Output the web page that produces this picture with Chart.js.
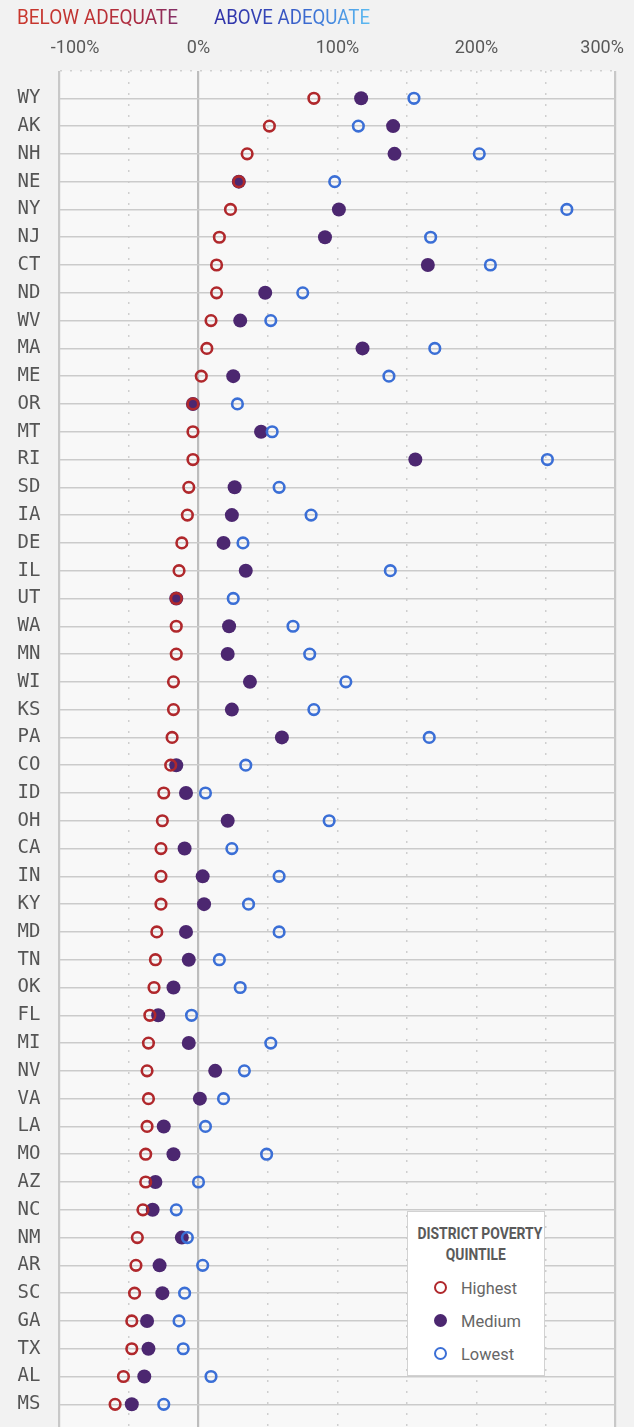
<!DOCTYPE html>
<html>
<head>
<meta charset="utf-8">
<title>District poverty quintile spending vs. adequate</title>
<script src="https://cdn.jsdelivr.net/npm/chart.js@4/dist/chart.umd.min.js"></script>
<style>
    html, body {
        margin: 0;
        padding: 0;
        background: #f2f2f2;
        overflow: hidden;
        width: 634px;
        height: 1427px;
    }
    #wrap {
        position: absolute;
        left: 0;
        top: 0;
        width: 634px;
        height: 1440px;
    }
    .head {
        position: absolute;
        top: 7px;
        font: 21px/21px Roboto, sans-serif;
        white-space: nowrap;
        transform-origin: left top;
        -webkit-background-clip: text;
        background-clip: text;
        color: transparent;
    }
    #below {
        left: 17px;
        background-image: linear-gradient(90deg, #c9372c 0%, #bf3131 45%, #a52a45 80%, #82306a 100%);
    }
    #above {
        left: 214px;
        background-image: linear-gradient(90deg, #2f2fa6 0%, #3446b8 35%, #3d74d6 65%, #5cbcf2 100%);
    }
    #legend {
        position: absolute;
        left: 407px;
        top: 1211px;
        width: 136px;
        height: 163px;
        background: #fff;
        border: 1.5px solid #d2d2d2;
        color: #5a5a5a;
    }
    #legend .ttl {
        position: absolute;
        left: 0;
        width: 136px;
        text-align: center;
        font: bold 16px/16px Roboto, sans-serif;
        white-space: nowrap;
    }
    #legend .ttl span {
        display: inline-block;
        transform-origin: center top;
    }
    #legend .item {
        position: absolute;
        left: 0;
        height: 20px;
        width: 136px;
    }
    #legend .dot {
        position: absolute;
        left: 25.5px;
        top: 3.5px;
        width: 13px;
        height: 13px;
        border-radius: 50%;
        box-sizing: border-box;
    }
    #legend .lab {
        position: absolute;
        left: 52.5px;
        top: 0;
        font: 17px/20px Roboto, sans-serif;
        color: #666;
        white-space: nowrap;
        transform-origin: left top;
    }
</style>
</head>
<body>
<div id="wrap">
    <canvas id="chart" width="634" height="1440"></canvas>
</div>
<div class="head" id="below">BELOW ADEQUATE</div>
<div class="head" id="above">ABOVE ADEQUATE</div>
<div id="legend"></div>

<script>
// ============================================================================
// Data (percent above / below adequate spending)
// ============================================================================

const states = [
    'WY', 'AK', 'NH', 'NE', 'NY', 'NJ', 'CT', 'ND', 'WV', 'MA',
    'ME', 'OR', 'MT', 'RI', 'SD', 'IA', 'DE', 'IL', 'UT', 'WA',
    'MN', 'WI', 'KS', 'PA', 'CO', 'ID', 'OH', 'CA', 'IN', 'KY',
    'MD', 'TN', 'OK', 'FL', 'MI', 'NV', 'VA', 'LA', 'MO', 'AZ',
    'NC', 'NM', 'AR', 'SC', 'GA', 'TX', 'AL', 'MS'
];

const highest = [
    83, 51, 35, 29, 23, 15, 13, 13, 9, 6,
    2, -4, -4, -4, -7, -8, -12, -14, -16, -16,
    -16, -18, -18, -19, -20, -25, -26, -27, -27, -27,
    -30, -31, -32, -35, -36, -37, -36, -37, -38, -38,
    -40, -44, -45, -46, -48, -48, -54, -60
];

const medium = [
    117, 140, 141, 29, 101, 91, 165, 48, 30, 118,
    25, -4, 45, 156, 26, 24, 18, 34, -16, 22,
    21, 37, 24, 60, -16, -9, 21, -10, 3, 4,
    -9, -7, -18, -29, -7, 12, 1, -25, -18, -31,
    -33, -12, -28, -26, -37, -36, -39, -48
];

const lowest = [
    155, 115, 202, 98, 265, 167, 210, 75, 52, 170,
    137, 28, 53, 251, 58, 81, 32, 138, 25, 68,
    80, 106, 83, 166, 34, 5, 94, 24, 58, 36,
    58, 15, 30, -5, 52, 33, 18, 5, 49, 0,
    -16, -8, 3, -10, -14, -11, 9, -25
];

const seriesNames = ['Highest', 'Medium', 'Lowest'];
const xTicks = [-100, 0, 100, 200, 300];

// ============================================================================
// Styling
// ============================================================================

const RED = '#b0282c';
const PURPLE = '#4c2770';
const BLUE = '#3b6fd6';
const GRID = '#cbcbcb';

// blank slot above the first state and below the last one
const yLabels = [''].concat(states, ['']);

function points(values) {
    return values.map((v, i) => ({ x: v, y: states[i] }));
}

const plotBackground = {
    id: 'plotBackground',
    beforeDraw(chart) {
        const { ctx, chartArea: a } = chart;
        ctx.save();
        ctx.fillStyle = '#f8f8f8';
        ctx.fillRect(a.left, a.top, a.right - a.left, a.bottom - a.top);
        ctx.restore();
    }
};

function tickText(v) {
    if (!xTicks.includes(v)) return '';
    const s = v + '%';
    // edge labels sit a little inside the plot, as in the original
    if (v === xTicks[0]) return '       ' + s;
    if (v === xTicks[xTicks.length - 1]) return s + '      ';
    return s;
}

// keep the plot area fixed: no extra room for overhanging labels
function noPadding(scale) {
    scale.paddingLeft = 0;
    scale.paddingRight = 0;
    scale.paddingTop = 0;
    scale.paddingBottom = 0;
}

// ============================================================================
// Chart
// ============================================================================

const chart = new Chart(document.getElementById('chart'), {
    type: 'scatter',
    data: {
        datasets: [
            {
                label: seriesNames[0],
                data: points(highest),
                order: 1,
                pointRadius: 5.3,
                pointBorderWidth: 2.6,
                borderColor: RED,
                backgroundColor: 'rgba(0,0,0,0)'
            },
            {
                label: seriesNames[1],
                data: points(medium),
                order: 2,
                pointRadius: 7,
                pointBorderWidth: 0,
                borderColor: PURPLE,
                backgroundColor: PURPLE
            },
            {
                label: seriesNames[2],
                data: points(lowest),
                order: 0,
                pointRadius: 5.3,
                pointBorderWidth: 2.6,
                borderColor: BLUE,
                backgroundColor: 'rgba(0,0,0,0)'
            }
        ]
    },
    options: {
        responsive: false,
        animation: false,
        events: [],
        layout: {
            padding: { left: 0, right: 18.5, top: 0, bottom: 7.3 }
        },
        plugins: {
            legend: { display: false },
            tooltip: { enabled: false }
        },
        scales: {
            x: {
                type: 'linear',
                position: 'top',
                min: -100,
                max: 300,
                afterFit(scale) {
                    scale.height = 70.5;
                    noPadding(scale);
                },
                ticks: {
                    stepSize: 50,
                    autoSkip: false,
                    maxRotation: 0,
                    padding: 11,
                    color: '#595959',
                    font: { family: 'Roboto', size: 18 },
                    callback: tickText
                },
                grid: {
                    drawTicks: false,
                    color: (c) => (c.tick && c.tick.value === 0) ? '#bdbdbd' : (c.tick && (c.tick.value === -100 || c.tick.value === 300) ? '#c8c8c8' : '#cfcfcf'),
                    lineWidth: (c) => (c.tick && [-100, 0, 300].includes(c.tick.value)) ? 2.2 : 1.5
                },
                border: {
                    display: false,
                    dash: (c) => (c.tick && ![-100, 0, 300].includes(c.tick.value)) ? [2, 9] : []
                }
            },
            y: {
                type: 'category',
                labels: yLabels,
                offset: false,
                position: 'left',
                afterFit(scale) {
                    scale.width = 59.5;
                    noPadding(scale);
                },
                ticks: {
                    autoSkip: false,
                    padding: 19,
                    color: '#555555',
                    font: { family: 'DejaVu Sans Mono', size: 19 }
                },
                grid: {
                    drawTicks: false,
                    color: (c) => c.index === 0 ? '#d0d0d0' : GRID,
                    lineWidth: 1.5
                },
                border: {
                    display: false,
                    dash: (c) => (c.tick && c.index === 0) ? [2, 8] : []
                }
            }
        }
    },
    plugins: [plotBackground]
});

// ============================================================================
// Heading and legend (HTML)
// ============================================================================

// condensed look: squeeze text to the width it has in the original
function squeeze(el, width) {
    const w = el.getBoundingClientRect().width;
    if (w > 0) el.style.transform = 'scaleX(' + (width / w) + ')';
}

squeeze(document.getElementById('below'), 161);
squeeze(document.getElementById('above'), 156);

const legend = document.getElementById('legend');
const legendColors = [
    { border: RED, fill: 'transparent' },
    { border: PURPLE, fill: PURPLE },
    { border: BLUE, fill: 'transparent' }
];

legend.innerHTML =
    '<div class="ttl" style="top:14px"><span>DISTRICT POVERTY</span></div>' +
    '<div class="ttl" style="top:35px"><span>QUINTILE</span></div>' +
    seriesNames.map((name, i) => `
        <div class="item" style="top:${65.5 + i * 33}px">
            <span class="dot" style="border:2.6px solid ${legendColors[i].border};background:${legendColors[i].fill}"></span>
            <span class="lab">${name}</span>
        </div>
    `).join('');

const ttl = legend.querySelectorAll('.ttl span');
squeeze(ttl[0], 125);
squeeze(ttl[1], 60);
const labWidths = [56, 60, 53];
legend.querySelectorAll('.lab').forEach((el, i) => squeeze(el, labWidths[i]));
</script>
</body>
</html>
